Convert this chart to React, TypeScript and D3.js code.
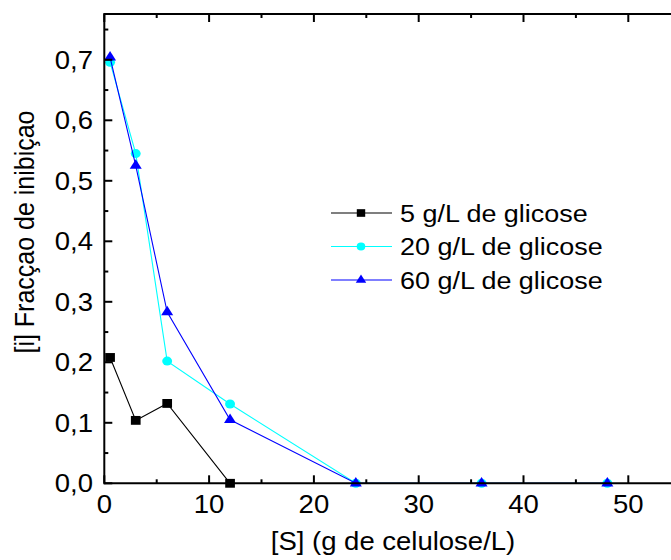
import React from "react";
import * as d3 from "d3";

const xS5 = [0.55, 3, 6, 12];
const yS5 = [0.208, 0.104, 0.132, 0.0];
const xS20 = [0.55, 3, 6, 12, 24, 36, 48];
const yS20 = [0.696, 0.545, 0.202, 0.131, 0.0, 0.0, 0.0];
const xS60 = [0.55, 3, 6, 12, 24, 36, 48];
const yS60 = [0.704, 0.525, 0.283, 0.105, 0.0, 0.0, 0.0];
const seriesNames = ["5 g/L de glicose", "20 g/L de glicose", "60 g/L de glicose"];
const seriesColors = ["#000000", "#00ffff", "#0000ff"];
const xTicks = [0, 10, 20, 30, 40, 50];
const yTicks = [0, 0.1, 0.2, 0.3, 0.4, 0.5, 0.6, 0.7];
const xTitle = "[S] (g de celulose/L)";
const yTitle = "[i] Fracçao de inibiçao";

const W = 671;
const H = 560;
const left = 104.3;
const bottom = 483.3;
const top = 14;
const pxPerUnit = 10.48;
const xMax = 60;
const yMax = 0.7757;
const FS = 25;
const SX = 1.1;

export default function App() {
  const x = d3.scaleLinear().domain([0, xMax]).range([left, left + xMax * pxPerUnit]);
  const y = d3.scaleLinear().domain([0, yMax]).range([bottom, top]);
  const right = x(xMax);

  const series = [
    { xs: xS5, ys: yS5, sym: d3.symbolSquare, size: 78 },
    { xs: xS20, ys: yS20, sym: d3.symbolCircle, size: 64 },
    { xs: xS60, ys: yS60, sym: d3.symbolTriangle, size: 52 },
  ];

  const line = d3
    .line<[number, number]>()
    .x((d) => x(d[0]))
    .y((d) => y(d[1]));

  const xMinor = d3.range(0, xMax + 0.001, 5);
  const yMinor = d3.range(0, yMax, 0.05);
  const font = "Liberation Sans, Arial, sans-serif";

  const legendRows = [213, 246.5, 280];

  return (
    <svg
      width={W}
      height={H}
      style={{ position: "absolute", left: 0, top: 0, background: "#fff" }}
      fontFamily={font}
    >
      <rect x={0} y={0} width={W} height={H} fill="#fff" />
      {series.map((s, i) => {
        const pts: [number, number][] = s.xs.map((v, j) => [v, s.ys[j]]);
        const path = d3.symbol().type(s.sym).size(s.size)() || "";
        return (
          <g key={i}>
            <path d={line(pts) || ""} fill="none" stroke={seriesColors[i]} strokeWidth={1.1} />
            {pts.map((p, j) => (
              <path
                key={j}
                d={path}
                transform={`translate(${x(p[0])},${y(p[1])}) scale(${SX},1)`}
                fill={seriesColors[i]}
              />
            ))}
          </g>
        );
      })}
      <line x1={left} y1={bottom} x2={right} y2={bottom} stroke="#000" strokeWidth={2} />
      <line x1={left} y1={top} x2={right} y2={top} stroke="#000" strokeWidth={2} />
      <line x1={left} y1={top - 1} x2={left} y2={bottom + 1} stroke="#000" strokeWidth={2} />
      {xMinor.map((v) => {
        const major = Math.abs(v % 10) < 1e-6;
        const len = major ? 8 : 4;
        return (
          <g key={"xt" + v}>
            <line x1={x(v)} x2={x(v)} y1={bottom} y2={bottom - len} stroke="#000" strokeWidth={2} />
            <line x1={x(v)} x2={x(v)} y1={top} y2={top + len} stroke="#000" strokeWidth={2} />
          </g>
        );
      })}
      {yMinor.map((v) => {
        const major = Math.abs((v * 20) % 2) < 1e-6;
        const len = major ? 8 : 4;
        return <line key={"yt" + v} x1={left} x2={left + len} y1={y(v)} y2={y(v)} stroke="#000" strokeWidth={2} />;
      })}
      {xTicks.map((v) => (
        <text
          key={"xl" + v}
          transform={`translate(${x(v)},513) scale(${SX},1)`}
          textAnchor="middle"
          fontSize={FS}
          fill="#000"
        >
          {String(v)}
        </text>
      ))}
      {yTicks.map((v) => (
        <text
          key={"yl" + v}
          transform={`translate(93,${y(v) + 8.8}) scale(${SX},1)`}
          textAnchor="end"
          fontSize={FS}
          fill="#000"
        >
          {v.toFixed(1).replace(".", ",")}
        </text>
      ))}
      <text transform={`translate(393,550) scale(${SX},1)`} textAnchor="middle" fontSize={FS} fill="#000">
        {xTitle}
      </text>
      <text
        transform={`translate(33.5,232) scale(${SX},1) rotate(-90)`}
        textAnchor="middle"
        fontSize={FS}
        fill="#000"
      >
        {yTitle}
      </text>
      {legendRows.map((ry, i) => {
        const s = series[i];
        const path = d3.symbol().type(s.sym).size(s.size * 0.75)() || "";
        return (
          <g key={"lg" + i}>
            <line x1={331} x2={392} y1={ry} y2={ry} stroke={seriesColors[i]} strokeWidth={1.1} />
            <path d={path} transform={`translate(361,${ry}) scale(${SX},1)`} fill={seriesColors[i]} />
            <text transform={`translate(400,${ry + 8.5}) scale(${SX},1)`} fontSize={FS - 0.5} fill="#000">
              {seriesNames[i]}
            </text>
          </g>
        );
      })}
    </svg>
  );
}
